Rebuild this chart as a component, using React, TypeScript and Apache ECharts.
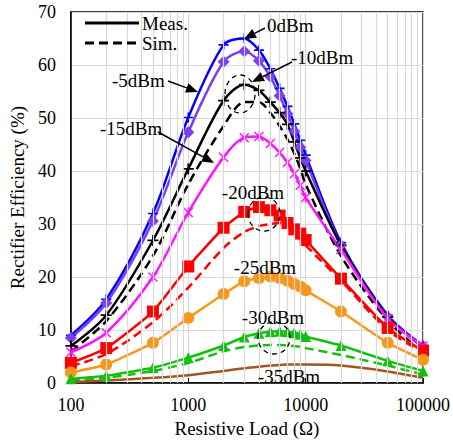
import React, { useEffect, useRef } from "react";
import * as echarts from "echarts";

const R = [100, 200, 500, 1000, 2000, 3000, 4000, 5000, 6000, 7000, 8000, 9000, 10000, 20000, 50000, 100000];

const meas0 = [9, 15.8, 32, 50.1, 63.8, 65, 62.8, 59.3, 55.6, 52.2, 48.9, 45.8, 43, 26.5, 12.8, 7.1];
const meas5 = [8.5, 15.1, 30.6, 47.3, 60.6, 62.6, 60.8, 57.8, 54.2, 50.8, 47.5, 44.5, 42, 26, 12.5, 7];
const meas10 = [7, 12.8, 26.9, 40.4, 53.3, 56.3, 55.2, 53, 51, 48.8, 45.5, 42.5, 40, 26, 12.5, 6.8];
const sim10 = [6, 11.7, 24, 37.5, 48.5, 53, 53, 51, 48.5, 46, 43.3, 40.5, 37.5, 24, 11.8, 5.8];
const meas15 = [5.8, 9.5, 20, 32.2, 42.6, 46.3, 46.5, 45.2, 43.5, 41.6, 39.5, 37.3, 35, 25.2, 12.2, 7];
const meas20 = [3.8, 6.6, 13.5, 22, 29.3, 32.3, 33.2, 32.6, 31.6, 30.2, 29, 28.2, 27, 19.7, 10.4, 6.1];
const sim20 = [3.2, 5.5, 11.5, 18, 25.5, 28.5, 29.6, 30, 30.2, 29.5, 28.3, 27.2, 26, 19.3, 10, 5.8];
const meas25 = [2, 3.5, 7.6, 12.3, 16.8, 19.2, 19.8, 20.1, 19.8, 19.3, 18.7, 18.2, 17.5, 13.5, 7.6, 4.4];
const meas30 = [0.8, 1.4, 2.9, 4.8, 7.1, 8.7, 9.4, 9.7, 9.8, 9.7, 9.5, 9.2, 8.8, 7.1, 4.2, 2.3];
const sim30 = [0.5, 1, 2.3, 3.8, 6, 6.8, 7.1, 7.2, 7.2, 7.1, 7, 6.8, 6.6, 5.3, 3.3, 1.6];
const meas35 = [0.2, 0.5, 1, 1.5, 2.3, 2.8, 3.1, 3.3, 3.4, 3.5, 3.5, 3.5, 3.5, 3.3, 2.2, 1];

const xTickLabels = ["100", "1000", "10000", "100000"];
const legendNames = ["Meas.", "Sim."];

const FONT = "Liberation Serif";

const PLUS = "path://M4.2,0H5.8V4.2H10V5.8H5.8V10H4.2V5.8H0V4.2H4.2Z";
const ASTER = "path://M0,1L1,0L10,9L9,10Z M9,0L10,1L1,10L0,9Z M4.4,0H5.6V10H4.4Z";

const pts = (arr: number[]) => R.map((r, i) => [r, arr[i]]);

function arrow(x1: number, y1: number, x2: number, y2: number) {
  const a = Math.atan2(y2 - y1, x2 - x1);
  const L = 12, W = 5;
  const bx = x2 - L * Math.cos(a), by = y2 - L * Math.sin(a);
  const px = -Math.sin(a) * W, py = Math.cos(a) * W;
  return [
    { type: "line", silent: true, shape: { x1, y1, x2: bx, y2: by }, style: { stroke: "#000", lineWidth: 1.5 }, z: 100 },
    { type: "polygon", silent: true, shape: { points: [[x2, y2], [bx + px, by + py], [bx - px, by - py]] }, style: { fill: "#000" }, z: 100 },
  ];
}

function label(text: string, x: number, y: number, align: string) {
  return {
    type: "text",
    silent: true,
    z: 100,
    style: { text, x, y, fill: "#000", fontFamily: FONT, fontSize: 19, align, verticalAlign: "middle" },
  };
}

function ell(cx: number, cy: number, rx: number, ry: number) {
  return {
    type: "ellipse",
    silent: true,
    z: 100,
    shape: { cx, cy, rx, ry },
    style: { fill: "none", stroke: "#000", lineWidth: 1.3, lineDash: [5, 4] },
  };
}

function legendItem(name: string, y: number, dashed: boolean) {
  return [
    {
      type: "line",
      silent: true,
      z: 100,
      shape: { x1: 85, y1: y, x2: 139, y2: y },
      style: dashed ? { stroke: "#000", lineWidth: 3, lineDash: [9, 5] } : { stroke: "#000", lineWidth: 3 },
    },
    label(name, 142, y, "left"),
  ];
}

export default function App() {
  const ref = useRef<HTMLDivElement>(null);
  useEffect(() => {
    if (!ref.current) return;
    const chart = echarts.init(ref.current, undefined, { renderer: "svg" });

    const minorX: number[] = [];
    for (let d = 100; d < 100000; d *= 10) {
      for (let k = 2; k <= 9; k++) minorX.push(d * k);
    }

    const solid = (name: string, data: number[], color: string, symbol: string, size: number, smooth: number | boolean, width = 2.5) => ({
      type: "line",
      name,
      data: pts(data),
      smooth,
      symbol,
      symbolSize: size,
      showSymbol: true,
      lineStyle: { color, width },
      itemStyle: { color, borderColor: color, borderWidth: 0 },
      z: 3,
    });
    const dashed = (name: string, data: number[], color: string, smooth: number | boolean) => ({
      type: "line",
      name,
      data: pts(data),
      smooth,
      symbol: "none",
      lineStyle: { color, width: 2.5, type: [9, 5] },
      itemStyle: { color },
      z: 3,
    });

    const option: any = {
      animation: false,
      backgroundColor: "#fff",
      textStyle: { fontFamily: FONT },
      grid: { left: 68, top: 12, right: 29, bottom: 57, show: true, borderColor: "#000", borderWidth: 1.5, backgroundColor: "transparent" },
      xAxis: {
        type: "log",
        logBase: 10,
        min: 100,
        max: 100000,
        name: "Resistive Load (Ω)",
        nameLocation: "middle",
        nameGap: 34,
        nameTextStyle: { fontFamily: FONT, fontSize: 19, color: "#000" },
        axisLine: { show: true, lineStyle: { color: "#000", width: 1.5 } },
        axisTick: { show: true, inside: true, length: 5, lineStyle: { color: "#000" } },
        axisLabel: {
          fontFamily: FONT,
          fontSize: 18,
          color: "#000",
          margin: 13,
          formatter: (v: number) => {
            const s = String(Math.round(v));
            return xTickLabels.includes(s) ? s : "";
          },
        },
        splitLine: { show: true, lineStyle: { color: "#d9d9d9", width: 1.2 } },
      },
      yAxis: {
        type: "value",
        min: 0,
        max: 70,
        interval: 10,
        name: "Rectifier Efficiency (%)",
        nameLocation: "middle",
        nameGap: 41,
        nameTextStyle: { fontFamily: FONT, fontSize: 19, color: "#000" },
        axisLine: { show: true, lineStyle: { color: "#000", width: 1.5 } },
        axisTick: { show: false },
        axisLabel: { fontFamily: FONT, fontSize: 18, color: "#000", margin: 15 },
        splitLine: { show: true, lineStyle: { color: "#d9d9d9", width: 1.2 } },
      },
      series: [
        {
          type: "line",
          name: "grid-minor",
          data: [],
          silent: true,
          z: 1,
          markLine: {
            silent: true,
            symbol: "none",
            animation: false,
            label: { show: false },
            lineStyle: { color: "#d9d9d9", width: 1.2, type: "solid" },
            data: minorX.map((v) => ({ xAxis: v })),
          },
        },
        solid("0dBm", meas0, "#0000FF", PLUS, 10, 0.3),
        solid("-5dBm", meas5, "#7B3FF2", "diamond", 12, 0.3),
        solid("-10dBm", meas10, "#000000", PLUS, 11, 0.3),
        dashed("-10dBm sim", sim10, "#000000", 0.3),
        solid("-15dBm", meas15, "#FF14FF", ASTER, 10, 0.3),
        dashed("-20dBm sim", sim20, "#FF0000", 0.3),
        solid("-20dBm", meas20, "#FF0000", "rect", 12, 0.15),
        solid("-25dBm", meas25, "#F7981D", "circle", 12, 0.15),
        dashed("-30dBm sim", sim30, "#12C012", 0.3),
        solid("-30dBm", meas30, "#12C012", "triangle", 11, 0.15),
        solid("-35dBm", meas35, "#A0561E", "none", 0, 0.3),
      ],
      graphic: [
        ...legendItem(legendNames[0], 23, false),
        ...legendItem(legendNames[1], 43, true),
        ...arrow(265, 28, 244, 39),
        label("0dBm", 267, 25, "left"),
        ...arrow(292, 62, 252, 82),
        label("-10dBm", 291, 57, "left"),
        ...arrow(168, 81, 198, 92),
        label("-5dBm", 112, 80, "left"),
        ...arrow(158, 132, 214, 163),
        label("-15dBm", 100, 128, "left"),
        label("-20dBm", 253, 192, "center"),
        label("-25dBm", 265, 267, "center"),
        label("-30dBm", 273, 317, "center"),
        label("-35dBm", 289, 376, "center"),
        ell(240, 94, 15, 19),
        ell(264, 214, 16, 17),
        ell(274, 338, 16, 16),
      ],
    };
    chart.setOption(option);
    return () => chart.dispose();
  }, []);
  return <div ref={ref} style={{ width: 453, height: 443, position: "absolute", left: 0, top: 0 }} />;
}
